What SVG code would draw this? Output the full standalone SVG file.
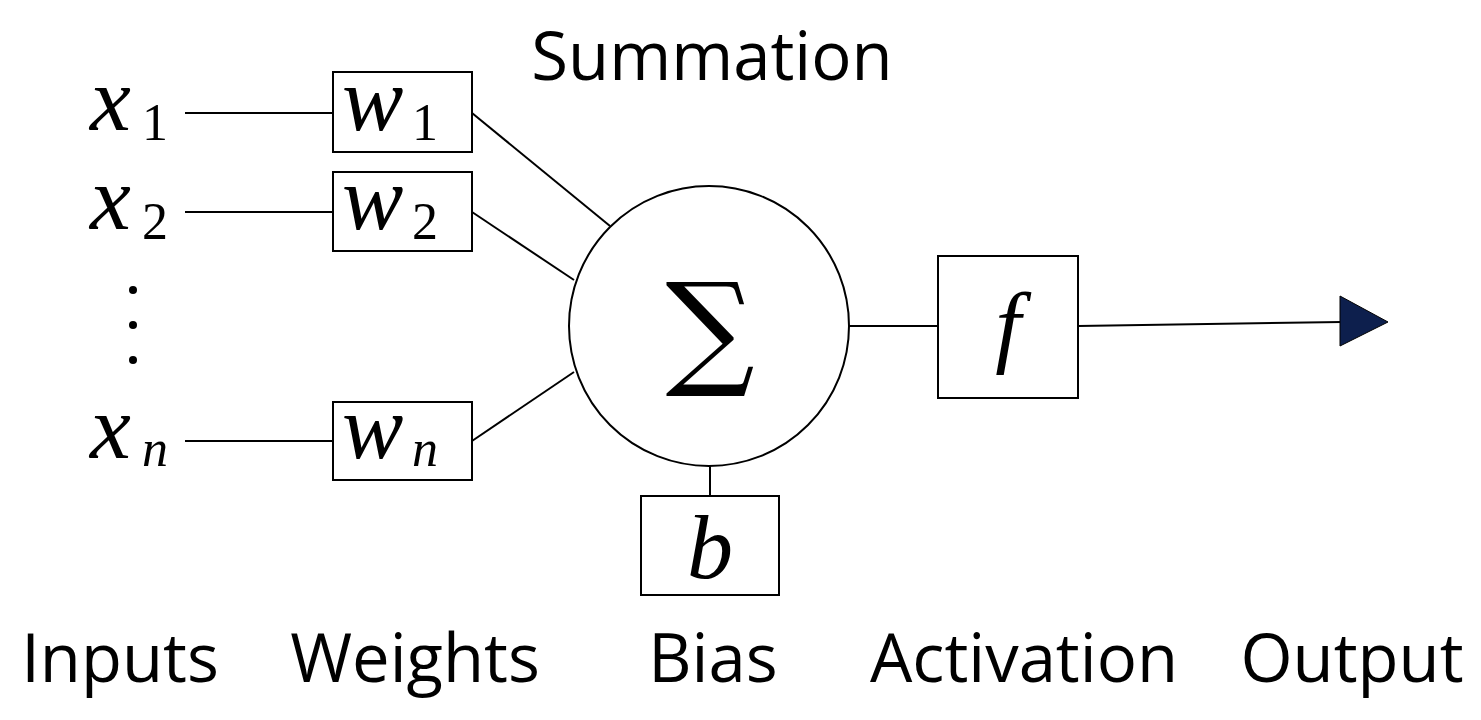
<svg xmlns="http://www.w3.org/2000/svg" width="1481" height="720" viewBox="0 0 1481 720">
<style>
.box{fill:#fff;stroke:#000;stroke-width:2}
.ln{stroke:#000;stroke-width:2;fill:none}
.lbl{font-family:"Open Sans","Liberation Sans",sans-serif;font-size:67px;fill:#000}
.m{font-family:"Liberation Serif",serif;font-style:italic;font-size:92px;fill:#000}
.s{font-family:"Liberation Serif",serif;font-size:52px;fill:#000}
</style>
<rect width="1481" height="720" fill="#fff"/>
<g id="connectors">
<line class="ln" x1="185" y1="113" x2="333" y2="113"/>
<line class="ln" x1="185" y1="212" x2="333" y2="212"/>
<line class="ln" x1="185" y1="441" x2="333" y2="441"/>
<line class="ln" x1="472" y1="113" x2="610" y2="226"/>
<line class="ln" x1="472" y1="212" x2="574" y2="280"/>
<line class="ln" x1="472" y1="441" x2="574" y2="372"/>
<line class="ln" x1="710" y1="466" x2="710" y2="496"/>
<line class="ln" x1="849" y1="326" x2="938" y2="326"/>
<line class="ln" x1="1078" y1="326" x2="1342" y2="322"/>
<polygon points="1340,296 1388,322 1340,346" fill="#0d1f4d" stroke="#000" stroke-width="1"/>
</g>
<g id="x1"><text class="m" x="90" y="130">x</text><text class="s" x="142" y="140">1</text></g>
<g id="x2"><text class="m" x="90" y="229">x</text><text class="s" x="142" y="239">2</text></g>
<g id="dots"><circle cx="133" cy="290" r="4"/><circle cx="133" cy="325" r="4"/><circle cx="133" cy="360" r="4"/></g>
<g id="xn"><text class="m" x="90" y="458">x</text><text class="s" x="142" y="466" font-style="italic">n</text></g>
<g id="w1"><rect class="box" x="333" y="72" width="139" height="80"/><text class="m" x="342" y="130">w</text><text class="s" x="412" y="140">1</text></g>
<g id="w2"><rect class="box" x="333" y="172" width="139" height="79"/><text class="m" x="342" y="229">w</text><text class="s" x="412" y="239">2</text></g>
<g id="wn"><rect class="box" x="333" y="402" width="139" height="78"/><text class="m" x="342" y="458">w</text><text class="s" x="412" y="466" font-style="italic">n</text></g>
<g id="sum"><circle class="box" cx="709" cy="326" r="140"/><text x="710" y="372" text-anchor="middle" font-family="DejaVu Serif,serif" font-size="125">∑</text></g>
<g id="bias"><rect class="box" x="641" y="496" width="138" height="99"/><text class="m" x="710" y="578" text-anchor="middle">b</text></g>
<g id="act"><rect class="box" x="938" y="256" width="140" height="142"/><text class="m" x="1008" y="356" text-anchor="middle">f</text></g>
<text class="lbl" x="712" y="80" text-anchor="middle">Summation</text>
<text class="lbl" x="120" y="682" text-anchor="middle">Inputs</text>
<text class="lbl" x="415" y="682" text-anchor="middle">Weights</text>
<text class="lbl" x="713" y="682" text-anchor="middle">Bias</text>
<text class="lbl" x="1024" y="682" text-anchor="middle">Activation</text>
<text class="lbl" x="1352" y="682" text-anchor="middle">Output</text>
</svg>
